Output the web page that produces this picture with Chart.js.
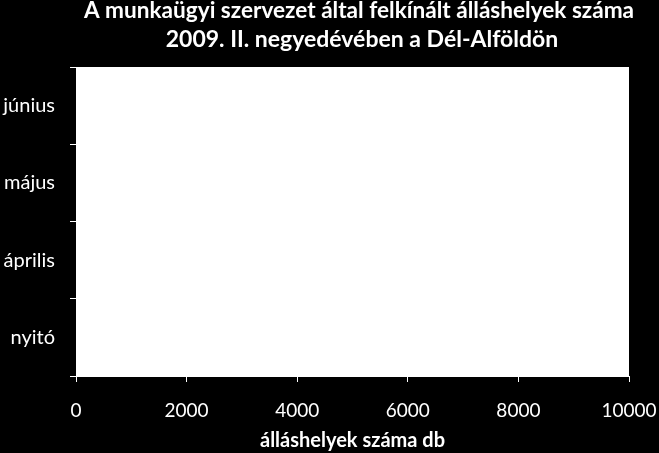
<!DOCTYPE html>
<html><head><meta charset="utf-8">
<script src="https://cdn.jsdelivr.net/npm/chart.js@4"></script>
<style>html,body{margin:0;padding:0;background:#000;}#wrap{width:659px;height:453px;}</style>
</head><body><div id="wrap"><canvas id="c"></canvas></div>
<script>
const categories = ['nyitó', 'április', 'május', 'június'];
const allashelyek = [2600, 3500, 3800, 3300];
const xTicks = [0, 2000, 4000, 6000, 8000, 10000];
const titleLines = ['A munkaügyi szervezet által felkínált álláshelyek száma', '2009. II. negyedévében a Dél-Alföldön'];
const xTitle = 'álláshelyek száma db';

const FONT = 'Lato';
const bgPlugin = {
  id: 'bg',
  beforeDraw(chart) {
    const ctx = chart.ctx, a = chart.chartArea;
    ctx.save();
    ctx.fillStyle = '#000';
    ctx.fillRect(0, 0, chart.width, chart.height);
    ctx.fillStyle = '#fff';
    ctx.fillRect(a.left, a.top, a.right - a.left, a.bottom - a.top);
    ctx.restore();
  },
  afterDraw(chart) {
    const ctx = chart.ctx;
    ctx.save();
    ctx.fillStyle = '#fff';
    ctx.textAlign = 'center';
    ctx.textBaseline = 'alphabetic';
    ctx.font = 'bold 22.6px ' + FONT;
    ctx.fillText(titleLines[0], 359, 18);
    ctx.font = 'bold 23px ' + FONT;
    ctx.fillText(titleLines[1], 362, 47);
    ctx.restore();
  }
};
new Chart(document.getElementById('c'), {
  type: 'bar',
  data: { labels: categories, datasets: [{ data: allashelyek, backgroundColor: '#ffffff', borderWidth: 0 }] },
  options: {
    indexAxis: 'y', responsive: true, maintainAspectRatio: false, animation: false,
    layout: { padding: { left: 0, right: 30, top: 67, bottom: 0 } },
    plugins: {
      legend: { display: false }, tooltip: { enabled: false }, title: { display: false }
    },
    scales: {
      y: {
        reverse: true,
        grid: { drawOnChartArea: false, drawTicks: true, tickLength: 6, color: '#fff', offset: true },
        border: { color: '#fff' },
        ticks: { color: '#fff', font: { family: FONT, size: 20 }, padding: 15 },
        afterFit(s) { s.width = 76; s.paddingTop = 0; s.paddingBottom = 0; }
      },
      x: {
        min: 0, max: 10000,
        afterBuildTicks(s) { s.ticks = xTicks.map(v => ({ value: v })); },
        grid: { drawOnChartArea: false, drawTicks: true, tickLength: 6, color: '#fff' },
        border: { color: '#fff' },
        ticks: { color: '#fff', font: { family: FONT, size: 19 }, padding: 17, maxRotation: 0, callback: v => String(v) },
        title: { display: true, text: xTitle, color: '#fff', font: { family: FONT, size: 20, weight: 'bold' }, padding: { top: 3, bottom: 0 } },
        afterFit(s) { s.height = 77; s.paddingLeft = 0; s.paddingRight = 0; }
      }
    }
  },
  plugins: [bgPlugin]
});
</script></body></html>
